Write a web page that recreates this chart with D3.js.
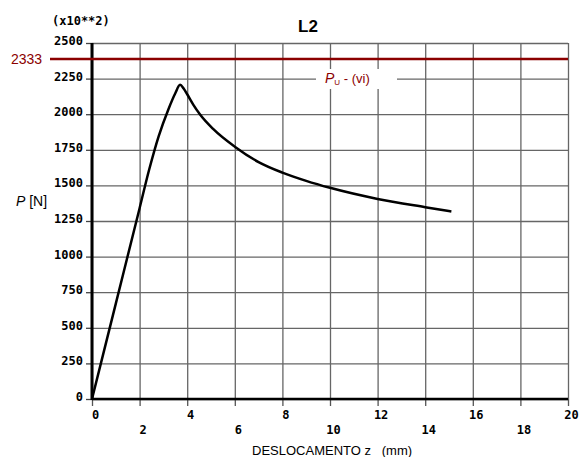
<!DOCTYPE html>
<html>
<head>
<meta charset="utf-8">
<script src="https://cdn.jsdelivr.net/npm/d3@7"></script>
<style>
  body { margin: 0; background: #fff; }
  svg { display: block; }
</style>
</head>
<body>
<svg id="chart" width="585" height="457"></svg>
<script>

// values (z in mm, P in N x10^2)
const zValues = [0, 1, 2, 2.4, 2.8, 3.2, 3.5, 3.7, 3.85, 4.0, 4.26, 4.54, 5.1, 6, 7, 8, 9, 10, 12, 14, 15.1];
const pValues = [0, 670, 1340, 1610, 1845, 2030, 2147, 2206, 2180, 2140, 2066, 1998, 1895, 1772, 1664, 1590, 1532, 1483, 1405, 1347, 1317];

const xTicks = [0, 2, 4, 6, 8, 10, 12, 14, 16, 18, 20];
const yTicks = [0, 250, 500, 750, 1000, 1250, 1500, 1750, 2000, 2250, 2500];

const puLevel = 2388;
const puLabel = "2333";

const svg = d3.select("#chart");

const plotLeft = 92, plotRight = 568, plotTop = 43, plotBottom = 399;

const x = d3.scaleLinear().domain([0, 20]).range([plotLeft, plotRight]);
const y = d3.scaleLinear().domain([0, 2500]).range([plotBottom, plotTop]);

const tickFont = "bold 12px 'DejaVu Sans Mono', monospace";

// horizontal grid
svg.append("g")
  .attr("transform", "translate(" + plotLeft + ",0)")
  .call(d3.axisLeft(y).tickValues(yTicks).tickSize(-(plotRight - plotLeft)).tickFormat(""))
  .call(g => g.select(".domain").remove())
  .call(g => g.selectAll("line").attr("stroke", "#666").attr("stroke-width", 1.3));

// vertical grid
svg.append("g")
  .attr("transform", "translate(0," + plotBottom + ")")
  .call(d3.axisBottom(x).tickValues(xTicks).tickSize(-(plotBottom - plotTop)).tickFormat(""))
  .call(g => g.select(".domain").remove())
  .call(g => g.selectAll("line").attr("stroke", "#666").attr("stroke-width", 1.3));

// y tick labels
svg.append("g")
  .attr("transform", "translate(" + plotLeft + ",0)")
  .call(d3.axisLeft(y).tickValues(yTicks).tickSize(6).tickPadding(3).tickFormat(d3.format("d")))
  .call(g => g.select(".domain").remove())
  .call(g => g.selectAll("line").attr("stroke", "#444").attr("stroke-width", 1.3))
  .call(g => g.selectAll("text")
    .attr("dy", "0.12em")
    .style("font", tickFont)
    .attr("fill", "#000"));

// x tick labels, alternating rows
svg.append("g")
  .attr("transform", "translate(0," + plotBottom + ")")
  .call(d3.axisBottom(x).tickValues(xTicks).tickSize(7).tickFormat(d3.format("d")))
  .call(g => g.select(".domain").remove())
  .call(g => g.selectAll("line").attr("stroke", "#555").attr("stroke-width", 1.3))
  .call(g => g.selectAll("text")
    .attr("x", 3)
    .attr("dy", "0")
    .attr("y", (d, i) => i % 2 ? 35 : 20)
    .style("font", tickFont)
    .attr("fill", "#000"));

// axis lines
svg.append("line")
  .attr("x1", plotLeft).attr("x2", plotLeft)
  .attr("y1", plotTop).attr("y2", plotBottom + 1)
  .attr("stroke", "#000").attr("stroke-width", 3);
svg.append("line")
  .attr("x1", plotLeft).attr("x2", plotRight)
  .attr("y1", plotBottom).attr("y2", plotBottom)
  .attr("stroke", "#000").attr("stroke-width", 2.5);

// Pu line
svg.append("line")
  .attr("x1", 50).attr("x2", plotRight)
  .attr("y1", y(puLevel)).attr("y2", y(puLevel))
  .attr("stroke", "#8b0000").attr("stroke-width", 2.5);
svg.append("text")
  .attr("x", 11).attr("y", y(puLevel) + 5)
  .style("font", "14px 'Liberation Sans', Arial, sans-serif")
  .attr("fill", "#8b0000")
  .text(puLabel);

// Pu label with white box
svg.append("rect")
  .attr("x", 316).attr("y", 69)
  .attr("width", 81).attr("height", 20)
  .attr("fill", "#fff");
const pu = svg.append("text")
  .attr("x", 325).attr("y", 83)
  .style("font", "13px 'Liberation Sans', Arial, sans-serif")
  .attr("fill", "#8b0000");
pu.append("tspan").style("font-style", "italic").attr("font-size", 14).text("P");
pu.append("tspan").attr("font-size", 8).attr("dy", 2).text("U");
pu.append("tspan").attr("dy", -2).text(" - (vi)");

// curve
const points = zValues.map((z, i) => [z, pValues[i]]);
svg.append("path")
  .datum(points)
  .attr("fill", "none")
  .attr("stroke", "#000")
  .attr("stroke-width", 2.5)
  .attr("stroke-linejoin", "round")
  .attr("d", d3.line().x(d => x(d[0])).y(d => y(d[1])).curve(d3.curveMonotoneX));

// title and labels
svg.append("text")
  .attr("x", 308).attr("y", 32)
  .attr("text-anchor", "middle")
  .style("font", "bold 17px 'Liberation Sans', Arial, sans-serif")
  .text("L2");

svg.append("text")
  .attr("x", 52).attr("y", 25)
  .style("font", tickFont)
  .text("(x10**2)");

const pLabel = svg.append("text")
  .attr("x", 16).attr("y", 206)
  .style("font", "14px 'Liberation Sans', Arial, sans-serif");
pLabel.append("tspan").style("font-style", "italic").text("P");
pLabel.append("tspan").text(" [N]");

svg.append("text")
  .attr("x", 252).attr("y", 455)
  .style("font", "13px 'Liberation Sans', Arial, sans-serif")
  .style("white-space", "pre")
  .text("DESLOCAMENTO z   (mm)");

</script>
</body>
</html>
